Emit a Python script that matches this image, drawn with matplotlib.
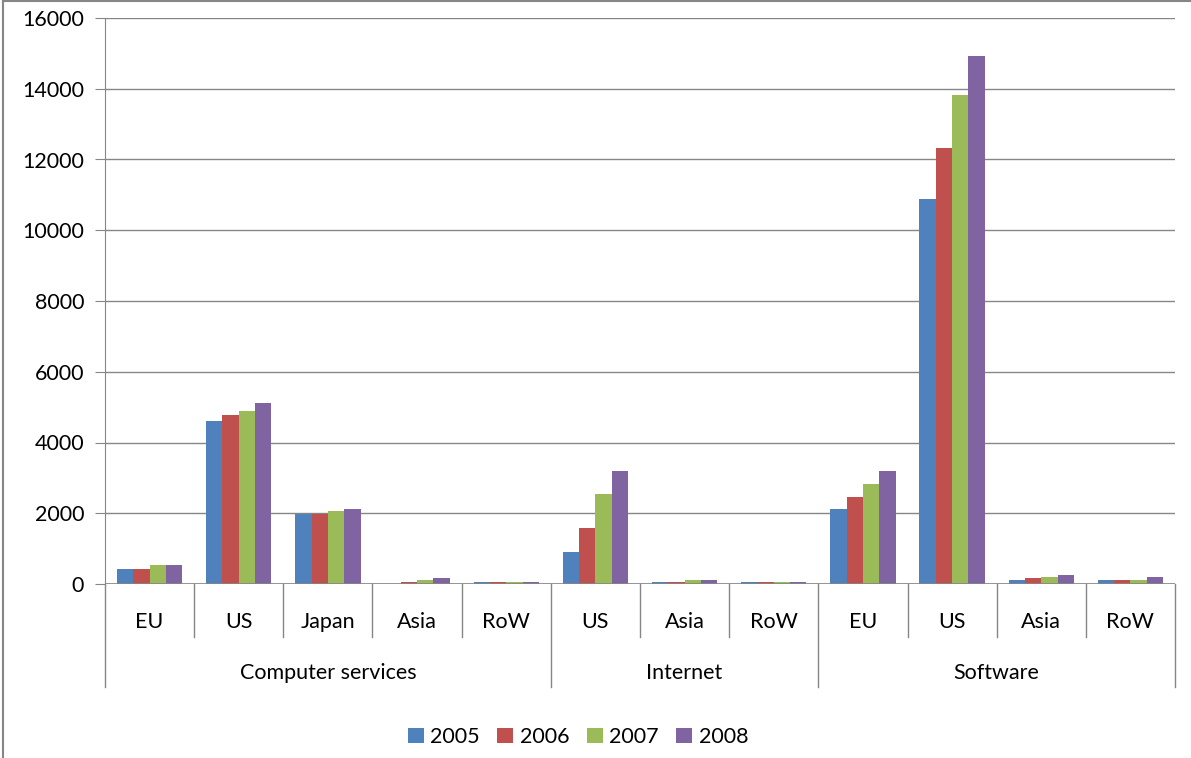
import numpy as np
import matplotlib.pyplot as plt
from matplotlib.transforms import blended_transform_factory

# =========================
# DATA
# =========================
groups = ["Computer services", "Internet", "Software"]
categories = [
    ["EU", "US", "Japan", "Asia", "RoW"],
    ["US", "Asia", "RoW"],
    ["EU", "US", "Asia", "RoW"],
]
years = ["2005", "2006", "2007", "2008"]

v2005 = [420, 4600, 1980, 0, 50, 900, 50, 50, 2120, 10870, 110, 110]
v2006 = [420, 4780, 1980, 50, 50, 1590, 50, 50, 2460, 12330, 170, 110]
v2007 = [540, 4900, 2070, 110, 50, 2550, 110, 50, 2830, 13830, 200, 110]
v2008 = [540, 5120, 2120, 170, 50, 3200, 110, 50, 3200, 14930, 255, 200]

colors = ["#4F81BD", "#C0504D", "#9BBB59", "#8064A2"]

plt.rcParams['font.family'] = ['Lato', 'DejaVu Sans']
fs = 15.5

W, H = 1191, 758
fig = plt.figure(figsize=(W / 100, H / 100), dpi=100)
ax = fig.add_axes([105 / W, 1 - 584 / H, (1175 - 105) / W, (584 - 18) / H])

labels = [c for cats in categories for c in cats]
n = len(labels)
x = np.arange(n)
bw = 0.183
series = [v2005, v2006, v2007, v2008]
for i, (vals, col, yr) in enumerate(zip(series, colors, years)):
    ax.bar(x + (i - 1.5) * bw, vals, width=bw, color=col, label=yr, zorder=3)

ax.set_xlim(-0.5, n - 0.5)
ax.set_ylim(0, 16000)
ax.set_yticks(np.arange(0, 16001, 2000))
ax.yaxis.grid(True, color="#868686", linewidth=1)
ax.set_axisbelow(True)
ax.tick_params(axis="y", length=7, color="#868686", labelsize=fs, pad=8)
ax.set_xticks([])
for s in ["top", "right", "bottom"]:
    ax.spines[s].set_visible(False)
ax.spines["left"].set_color("#868686")
ax.axhline(0, color="#868686", linewidth=1.2, zorder=4)

# multi-level category axis
tr = blended_transform_factory(ax.transData, ax.transAxes)
ax_h = 584 - 18
y1 = -(637 - 584) / ax_h
y2 = -(687 - 584) / ax_h
ycat = -(622 - 584) / ax_h
ygrp = -(673 - 584) / ax_h

for xi, lab in enumerate(labels):
    ax.text(xi, ycat, lab, transform=tr, ha="center", va="center", fontsize=fs)

start = 0
bounds = [-0.5]
for g, cats in zip(groups, categories):
    end = start + len(cats)
    ax.text((start + end - 1) / 2, ygrp, g, transform=tr, ha="center", va="center",
            fontsize=fs)
    for b in range(start + 1, end):
        ax.plot([b - 0.5, b - 0.5], [0, y1], transform=tr, color="#868686",
                linewidth=1, clip_on=False)
    bounds.append(end - 0.5)
    start = end
for b in bounds:
    ax.plot([b, b], [0, y2], transform=tr, color="#868686", linewidth=1, clip_on=False)

fig.legend(loc="center", bbox_to_anchor=(578 / W, 1 - 737 / H), ncol=4, frameon=False,
           fontsize=fs, handlelength=0.75, handleheight=0.75, handletextpad=0.3,
           columnspacing=0.8)

# outer chart border (top and left visible)
fig.add_artist(plt.Line2D([3 / W, 3 / W], [0, 1 - 1 / H], color="#868686", linewidth=1.5))
fig.add_artist(plt.Line2D([3 / W, 1], [1 - 1 / H, 1 - 1 / H], color="#868686", linewidth=1.5))

fig.savefig("out.png", dpi=100)
